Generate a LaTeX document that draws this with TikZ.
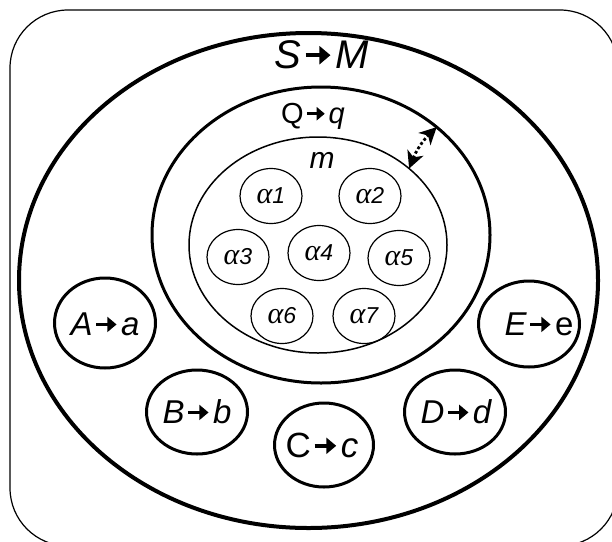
\documentclass[tikz,border=0pt]{standalone}
\usepackage{fontspec}
\setmainfont{Liberation Sans}
\newfontfamily\grkfont{Liberation Serif}
\usetikzlibrary{shapes.geometric,arrows.meta}
\newcommand{\myarr}{\kern0.05em\tikz[baseline=-0.32em]\draw[line width=0.11em,-{Triangle[length=0.28em,width=0.45em]}] (0,0)--(0.62em,0);\kern0.08em}
\newcommand{\alab}[1]{{\fontsize{30}{30}\selectfont\grkfont\itshape α}{\fontsize{23}{23}\selectfont\itshape #1}}
\tikzset{
  ell/.style={draw, ellipse, inner sep=0pt, outer sep=0pt},
  small/.style={ell, line width=1.2pt, minimum width=62pt, minimum height=55pt},
  grp/.style={ell, line width=3pt},
  lab/.style={anchor=base, inner sep=0pt},
  big/.style={font=\fontsize{33}{33}\selectfont\itshape},
  dothead/.style={{Stealth[length=17pt,width=17pt,inset=5pt]}-{Stealth[length=17pt,width=17pt,inset=5pt]}},
}
\begin{document}
\begin{tikzpicture}[x=1pt,y=-1pt]
\useasboundingbox (0,0) rectangle (612,541);
\node[draw, line width=1.2pt, rounded corners=58pt, minimum width=608pt, minimum height=536pt, inner sep=0pt] (frame) at (314,278) {};
\node[ell, line width=4pt, minimum width=579pt, minimum height=495pt] (S) at (308.5,280.5) {};
\node[ell, line width=3pt, minimum width=338pt, minimum height=296pt] (Q) at (321,235) {};
\node[ell, line width=1.5pt, minimum width=258pt, minimum height=216pt] (m) at (318,245) {};
\node[lab, font=\fontsize{40}{40}\selectfont\itshape] (Slab) at (322,68) {S\myarr M};
\node[lab, font=\fontsize{29}{29}\selectfont] (Qlab) at (313,123) {Q\myarr\textit{q}};
\node[lab, font=\fontsize{30}{30}\selectfont\itshape] (mlab) at (322,168) {m};
\node[small] (a1) at (271,196) {\alab{1}};
\node[small] (a2) at (370,196) {\alab{2}};
\node[small] (a3) at (238,257) {\alab{3}};
\node[small] (a4) at (319,253) {\alab{4}};
\node[small] (a5) at (399,258) {\alab{5}};
\node[small] (a6) at (282,316) {\alab{6}};
\node[small] (a7) at (364,316) {\alab{7}};
\node[grp, minimum width=101pt, minimum height=90pt] (A) at (105,323) {};
\node[grp, minimum width=101pt, minimum height=84pt] (B) at (197,412) {};
\node[grp, minimum width=99pt, minimum height=84pt] (C) at (324,445) {};
\node[grp, minimum width=101pt, minimum height=84pt] (D) at (455,412) {};
\node[grp, minimum width=101pt, minimum height=86pt] (E) at (529,324) {};
\node[lab, big] (Alab) at (105,335) {A\myarr a};
\node[lab, big] (Blab) at (197,423) {B\myarr b};
\node[lab, font=\fontsize{35}{35}\selectfont] (Clab) at (322,457) {C\myarr\textit{c}};
\node[lab, big] (Dlab) at (456,423) {D\myarr d};
\node[lab, big] (Elab) at (539,335) {E\myarr\textup{e}};
\draw[line width=2.8pt, dash pattern=on 2.8pt off 2.4pt, dothead] (m.40) to[bend left=12] (Q.43.5);
\end{tikzpicture}
\end{document}
